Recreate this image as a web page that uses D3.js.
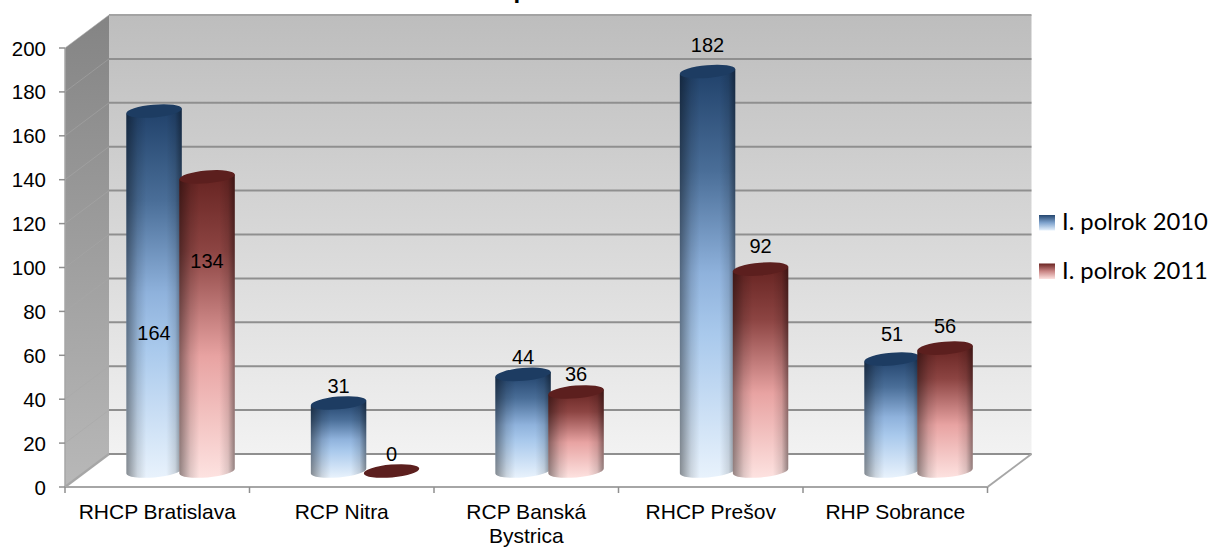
<!DOCTYPE html>
<html><head><meta charset="utf-8">
<script src="https://cdn.jsdelivr.net/npm/d3@7"></script>
<style>html,body{margin:0;padding:0;background:#fff;overflow:hidden}svg{display:block}</style>
</head><body><div id="c"></div>
<script>
const categories=["RHCP Bratislava","RCP Nitra","RCP Banská Bystrica","RHCP Prešov","RHP Sobrance"];
const seriesNames=["I. polrok 2010","I. polrok 2011"];
const values2010=[164,31,44,182,51];
const values2011=[134,0,36,92,56];
const yTicks=[0,20,40,60,80,100,120,140,160,180,200];
const titleFragment="p";

// how far each value label's baseline sits above the centre of its cylinder's cap
const lift2010=[-229,10,10,20,18];
const lift2011=[-91,10,11,16,15];

const W=1211,H=547;
const svg=d3.select("#c").append("svg").attr("width",W).attr("height",H);
const defs=svg.append("defs");
const dx=44,dy=-33;
const yF=d3.scaleLinear().domain([0,200]).range([487,48]);
const x0=d3.scaleBand().domain(categories).range([65,987.5]);
const yB=d3.scaleLinear().domain([0,200]).range([471,32]);
const groupShift=23.3,off=26.5,rx=27.8,ry=6.4,tiltDeg=-5;
const tx=rx*Math.cos(tiltDeg*Math.PI/180),ty=rx*Math.sin(tiltDeg*Math.PI/180);

function lin(id,x2,y2,stops){
  const g=defs.append("linearGradient").attr("id",id).attr("x1",0).attr("y1",0).attr("x2",x2).attr("y2",y2);
  stops.forEach(s=>g.append("stop").attr("offset",s[0]).attr("stop-color",s[1]).attr("stop-opacity",s[2]===undefined?1:s[2]));
}
lin("wall",0,1,[[0,"#bdbdbd"],[1,"#f2f2f2"]]);
lin("side",0,1,[[0,"#848484"],[1,"#b8b8b8"]]);
lin("blue",0,1,[[0,"#20416a"],[.25,"#4a6e98"],[.5,"#8fb2dc"],[.65,"#a9c9ec"],[1,"#e8f2fc"]]);
lin("red",0,1,[[0,"#662321"],[.25,"#8c4442"],[.45,"#c07a79"],[.6,"#e8a3a2"],[1,"#fde2e0"]]);
lin("shade",1,0,[[0,"#000",.42],[.2,"#000",.12],[.36,"#000",0],[.72,"#000",0],[.88,"#000",.12],[1,"#000",.42]]);

const p=(x,y)=>x+","+y;
const xL=x0.range()[0],xR=x0.range()[1];
svg.append("polygon").attr("points",[p(xL,yF(200)),p(xL+dx,yF(200)+dy),p(xL+dx,yF(0)+dy),p(xL,yF(0))].join(" ")).attr("fill","url(#side)");
svg.append("rect").attr("x",xL+dx).attr("y",yF(200)+dy).attr("width",xR-xL).attr("height",yF(0)-yF(200)).attr("fill","url(#wall)");

yTicks.forEach(t=>{
  const yy=yF(t);
  svg.append("line").attr("x1",xL).attr("y1",yy).attr("x2",xL+dx).attr("y2",yy+dy)
    .attr("stroke",t===0?"#a6a6a6":"#a8a8a8").attr("stroke-width",t===0?2.2:1).attr("stroke-opacity",t===0?1:.55);
  svg.append("line").attr("x1",xL+dx).attr("y1",yy+dy).attr("x2",xR+dx).attr("y2",yy+dy)
    .attr("stroke",t===200?"#a3a3a3":"#8f8f8f").attr("stroke-width",2);
});
svg.append("line").attr("x1",xL).attr("y1",yF(0)).attr("x2",xR).attr("y2",yF(0)).attr("stroke","#a6a6a6").attr("stroke-width",2);
svg.append("line").attr("x1",xR).attr("y1",yF(0)).attr("x2",xR+dx).attr("y2",yF(0)+dy).attr("stroke","#a6a6a6").attr("stroke-width",2);
svg.append("line").attr("x1",xL).attr("y1",yF(200)).attr("x2",xL).attr("y2",yF(0)).attr("stroke","#a6a6a6").attr("stroke-width",1.5);

yTicks.forEach(t=>svg.append("line").attr("x1",59).attr("x2",xL).attr("y1",yF(t)).attr("y2",yF(t)).attr("stroke","#8f8f8f").attr("stroke-width",1.5));
categories.map(c=>x0(c)).concat([xR]).forEach(e=>svg.append("line").attr("x1",e).attr("x2",e).attr("y1",yF(0)).attr("y2",yF(0)+6).attr("stroke","#8f8f8f").attr("stroke-width",1.5));

const font="'Liberation Sans',Arial,sans-serif";
svg.append("g").selectAll("text").data(yTicks).join("text")
  .attr("x",46).attr("y",d=>yF(d)+7.5).attr("text-anchor","end").attr("font-family",font).attr("font-size",20.5).attr("fill","#000").text(d=>d);

function cylinder(cx,v,col,capCol){
  const top=yB(v),base=yB(0);
  if(v>0){
    const d=`M${cx-tx},${top-ty} L${cx-tx},${base-ty} A${rx},${ry} ${tiltDeg} 0 0 ${cx+tx},${base+ty} L${cx+tx},${top+ty} Z`;
    svg.append("path").attr("d",d).attr("fill",`url(#${col})`);
    svg.append("path").attr("d",d).attr("fill","url(#shade)");
  }
  svg.append("ellipse").attr("cx",cx).attr("cy",top).attr("rx",rx).attr("ry",ry)
    .attr("transform",`rotate(${tiltDeg} ${cx} ${top})`).attr("fill",capCol);
}
const bars=[];
categories.forEach((c,i)=>{
  const cx=x0(c)+x0.bandwidth()/2+groupShift;
  bars.push({cx:cx-off,v:values2010[i],col:"blue",cap:"#1d3c62",lift:lift2010[i]});
  bars.push({cx:cx+off,v:values2011[i],col:"red",cap:"#5c1f1e",lift:lift2011[i]});
});
bars.forEach(b=>cylinder(b.cx,b.v,b.col,b.cap));

svg.append("g").selectAll("text").data(bars).join("text")
  .attr("x",d=>d.cx).attr("y",d=>yB(d.v)-d.lift)
  .attr("text-anchor","middle").attr("font-family",font).attr("font-size",20).attr("fill","#000").text(d=>d.v);

categories.forEach(c=>{
  const cx=x0(c)+x0.bandwidth()/2;
  const lines=c==="RCP Banská Bystrica"?["RCP Banská","Bystrica"]:[c];
  lines.forEach((l,j)=>svg.append("text").attr("x",cx).attr("y",519+j*24).attr("text-anchor","middle").attr("font-family",font).attr("font-size",21).attr("fill","#000").text(l));
});

// title: in the reference only the descender of one letter reaches into the picture
svg.append("text").attr("x",513.5).attr("y",-2).attr("font-family",font).attr("font-weight","bold").attr("font-size",24).attr("fill","#000").text(titleFragment);

seriesNames.forEach((s,i)=>{
  const y=215+i*48.5;
  const g=defs.append("linearGradient").attr("id","lg"+i).attr("x1",0).attr("y1",0).attr("x2",0).attr("y2",1);
  (i?[["0","#6a2422"],[".5","#c98584"],["1","#fde2e0"]]:[["0","#24466f"],[".5","#7fa3cd"],["1","#e6f1fc"]]).forEach(q=>g.append("stop").attr("offset",q[0]).attr("stop-color",q[1]));
  svg.append("rect").attr("x",1039).attr("y",y).attr("width",16).attr("height",15.5).attr("fill",`url(#lg${i})`);
  svg.append("text").attr("x",1062).attr("y",y+15).attr("font-family","Lato,Carlito,sans-serif").attr("font-size",23.8).attr("fill","#000").text(s);
});
</script></body></html>
